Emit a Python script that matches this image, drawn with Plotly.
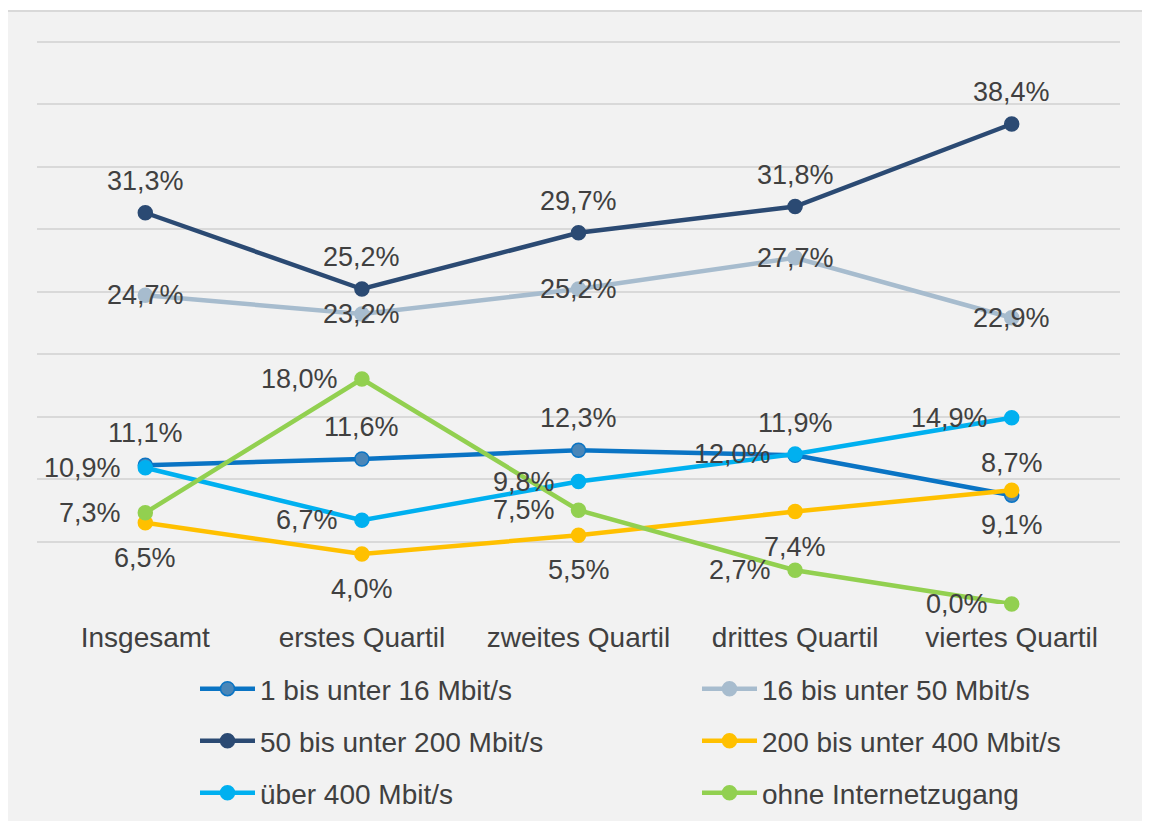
import plotly.graph_objects as go

# Kategorien und Werte (in %)
quartile = ['Insgesamt', 'erstes Quartil', 'zweites Quartil', 'drittes Quartil', 'viertes Quartil']

bis_16 = [11.1, 11.6, 12.3, 11.9, 8.7]
bis_50 = [24.7, 23.2, 25.2, 27.7, 22.9]
bis_200 = [31.3, 25.2, 29.7, 31.8, 38.4]
bis_400 = [6.5, 4.0, 5.5, 7.4, 9.1]
ueber_400 = [10.9, 6.7, 9.8, 12.0, 14.9]
ohne = [7.3, 18.0, 7.5, 2.7, 0.0]

FONT = 'Liberation Sans, Arial, sans-serif'
TXT = '#404040'
FS = 28      # Achse / Legende
FS_LBL = 27  # Datenbeschriftungen

# Plotbereich (Seitenpixel): links 37, rechts 1120, 0 % bei y=604, 45 % bei y=41
PL, PW, P0 = 37, 1083, 604
PH = 575  # Höhe des Plotbereichs für 0..46 %


def fmt(v):
    return f'{v:.1f}'.replace('.', ',') + '%'


def py(y):
    return (P0 - y) / PH


# name, werte, linienfarbe, markerfarbe, label-lage
series = [
    ('1 bis unter 16 Mbit/s', bis_16, '#0A74C4', '#4A86B8', 'top'),
    ('16 bis unter 50 Mbit/s', bis_50, '#A7BCCE', '#A7BCCE', 'center'),
    ('50 bis unter 200 Mbit/s', bis_200, '#2B4A73', '#2B4A73', 'top'),
    ('200 bis unter 400 Mbit/s', bis_400, '#FFC000', '#FFC000', 'bottom'),
    ('über 400 Mbit/s', ueber_400, '#00B0F0', '#00B0F0', 'left'),
    ('ohne Internetzugang', ohne, '#92D050', '#92D050', 'left'),
]

# Legendenplätze (Pixel: Anfang links, Zeilenmitte)
leg_pos = [(195, 689), (697, 689), (195, 741), (697, 741), (195, 793), (697, 793)]

fig = go.Figure()
layout_legends = {}
for i, (name, vals, lc, mc, lage) in enumerate(series):
    leg = 'legend' if i == 0 else f'legend{i + 1}'
    fig.add_trace(go.Scatter(
        x=quartile, y=vals, name=name, mode='lines+markers',
        line=dict(color=lc, width=4.5),
        marker=dict(size=14, color=mc, line=dict(color=lc, width=1.5)),
        legend=leg, hoverinfo='skip', cliponaxis=False,
    ))
    lx, ly = leg_pos[i]
    layout_legends[leg] = dict(
        x=(lx - PL) / PW, y=py(ly), xanchor='left', yanchor='middle',
        itemwidth=55, bgcolor='rgba(0,0,0,0)',
        font=dict(size=FS, color=TXT, family=FONT))
    # Datenbeschriftungen
    for q, v in zip(quartile, vals):
        ann = dict(x=q, y=v, text=fmt(v), showarrow=False,
                   font=dict(size=FS_LBL, color=TXT, family=FONT))
        if lage == 'top':
            ann.update(yshift=32)
        elif lage == 'bottom':
            ann.update(yshift=-35)
        elif lage == 'left':
            ann.update(xanchor='right', xshift=-22)
        fig.add_annotation(**ann)

# Diagrammhintergrund mit Rahmen
fig.add_shape(type='rect', xref='paper', yref='paper',
              x0=(7 - PL) / PW, x1=(1149 - PL) / PW,
              y0=py(840), y1=py(11),
              fillcolor='#F2F2F2', line=dict(color='#D9D9D9', width=2), layer='below')

# Seite hat 8px Rand -> Figur 8px kleiner, Ränder entsprechend
fig.update_layout(
    width=1142, height=813,
    margin=dict(l=PL - 8, r=30, t=21, b=217, autoexpand=False),
    paper_bgcolor='white', plot_bgcolor='rgba(0,0,0,0)',
    font=dict(family=FONT, color=TXT),
    showlegend=True,
    xaxis=dict(range=[-0.5, 4.5], showgrid=False, zeroline=False, showline=False,
               ticks='outside', ticklen=8, tickcolor='rgba(0,0,0,0)',
               tickfont=dict(size=FS, color=TXT, family=FONT)),
    yaxis=dict(range=[0, 46], tickvals=[0, 5, 10, 15, 20, 25, 30, 35, 40, 45],
               showticklabels=False, zeroline=False,
               showline=False, gridcolor='#D9D9D9', gridwidth=1.5),
    **layout_legends,
)

fig.write_html('out.html')
